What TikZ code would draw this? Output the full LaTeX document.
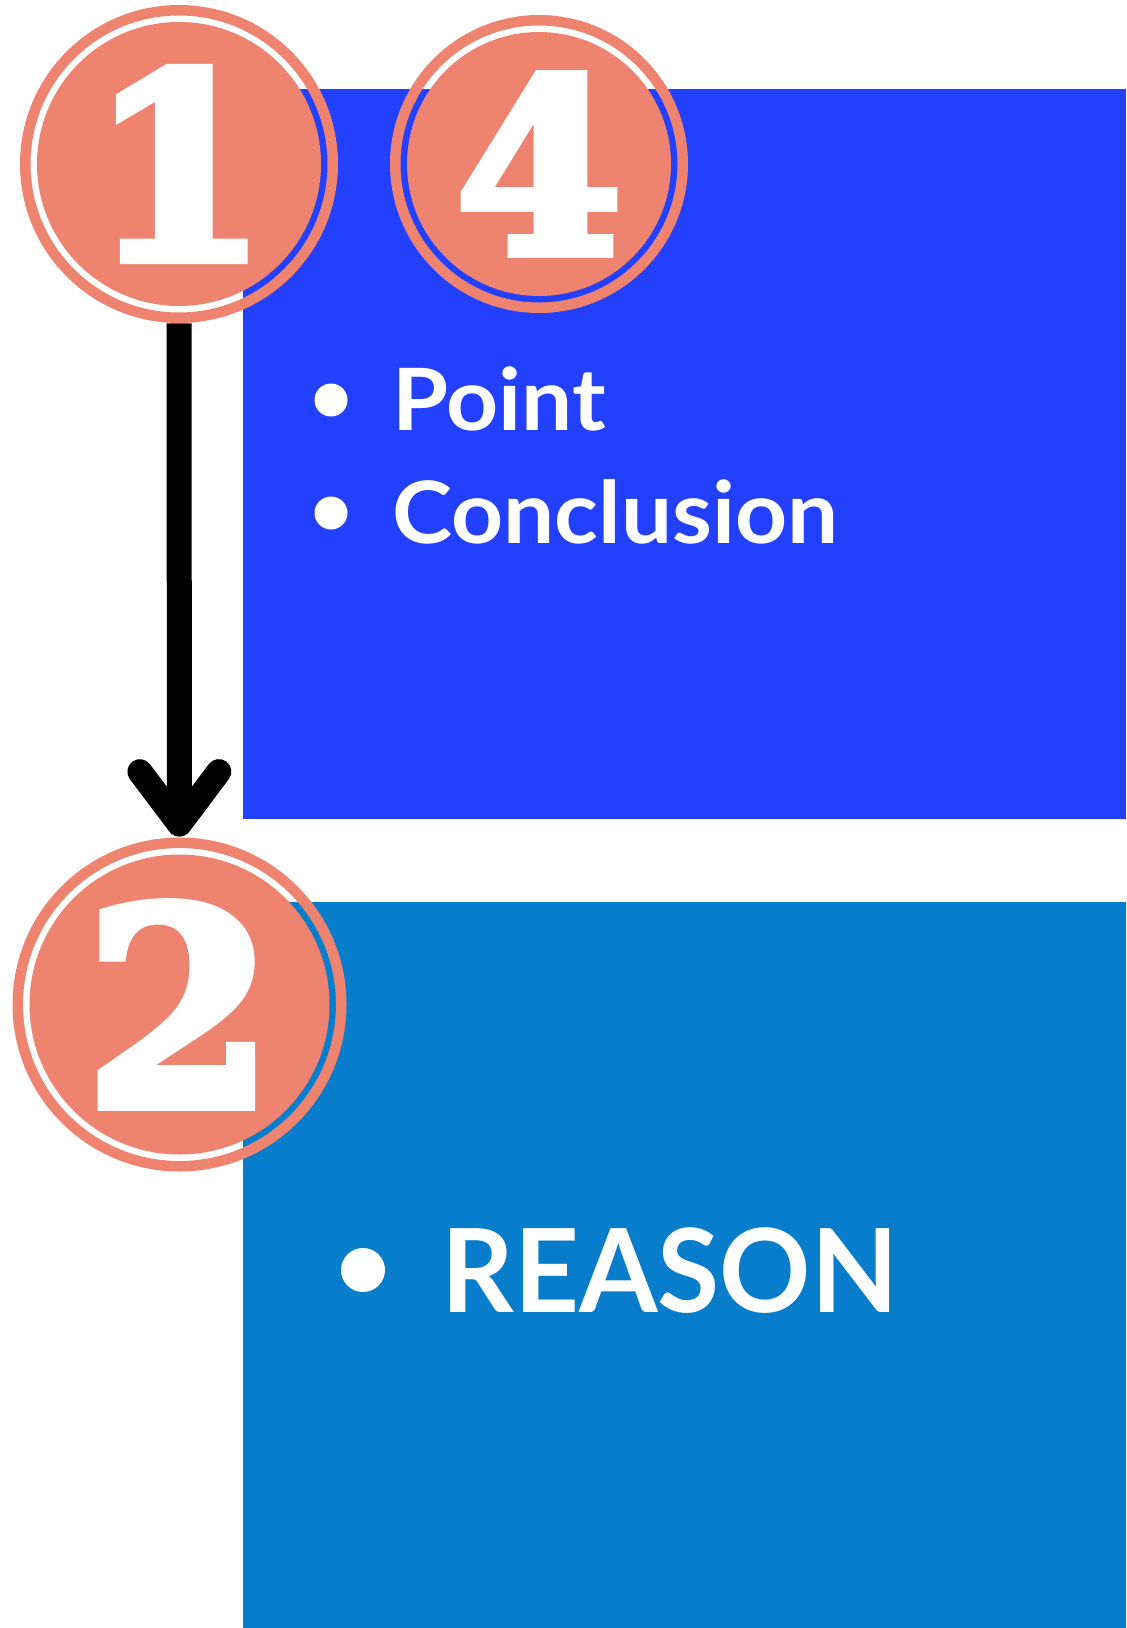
\documentclass[tikz,border=0pt]{standalone}
\usepackage{fontspec}
\setmainfont{Lato}
\newfontfamily\widefont{Lato}[FakeStretch=1.055]
\newfontfamily\narrowfont{Lato}[FakeStretch=0.975]
\newfontfamily\numfont{DejaVu Serif}[BoldFeatures={FakeBold=4}]
\usetikzlibrary{arrows.meta}
\definecolor{salmon}{HTML}{EE8470}
\definecolor{royal}{HTML}{2340FF}
\definecolor{ocean}{HTML}{077DCC}
\begin{document}
\begin{tikzpicture}[x=0.5pt,y=-0.5pt,
        badge/.style={circle, fill=salmon, text=white, inner sep=0pt, minimum size=#1},
        ring/.style={draw=salmon, line width=5.25pt},
        dot/.style={circle, fill=white, inner sep=0pt, minimum size=#1},
        txt/.style={anchor=base west, inner sep=0pt, text=white},
        arr/.style={line width=12.5pt, -{Straight Barb[round,length=26.25pt,width=39.5pt]}, shorten <=8.5pt, shorten >=8.75pt}]
                \useasboundingbox (0,0) rectangle (1126,1628);
                \fill[royal] (243,89) rectangle (1126,819);
                \fill[ocean] (243,902) rectangle (1126,1628);

                \node[badge=142pt, font=\numfont\bfseries\fontsize{128pt}{128pt}\selectfont] (A) at (179,164) {1};
                \node[badge=132pt, font=\numfont\bfseries\fontsize{120pt}{120pt}\selectfont] (B) at (539,164) {4};
                \node[badge=150pt, font=\numfont\bfseries\fontsize{136pt}{136pt}\selectfont] (C) at (179.5,1004.5) {2};
                \draw[ring] (A) circle (153.75);
                \draw[ring] (B) circle (143.75);
                \draw[ring] (C) circle (161.75);

                \draw[arr] (A) -- (C);

                \node[dot=16.5pt] (D) at (331,400) {};
                \node[dot=16.5pt] (E) at (331,513) {};
                \node[txt, font=\widefont\bfseries\fontsize{43pt}{43pt}\selectfont] (DD) at (392,430) {Point};
                \node[txt, font=\widefont\bfseries\fontsize{43pt}{43pt}\selectfont] (EE) at (392,543) {Conclusion};

                \node[dot=22pt] (F) at (363,1270) {};
                \node[txt, font=\narrowfont\bfseries\fontsize{58pt}{58pt}\selectfont] (FF) at (441,1312) {REASON};
            \end{tikzpicture}
\end{document}
